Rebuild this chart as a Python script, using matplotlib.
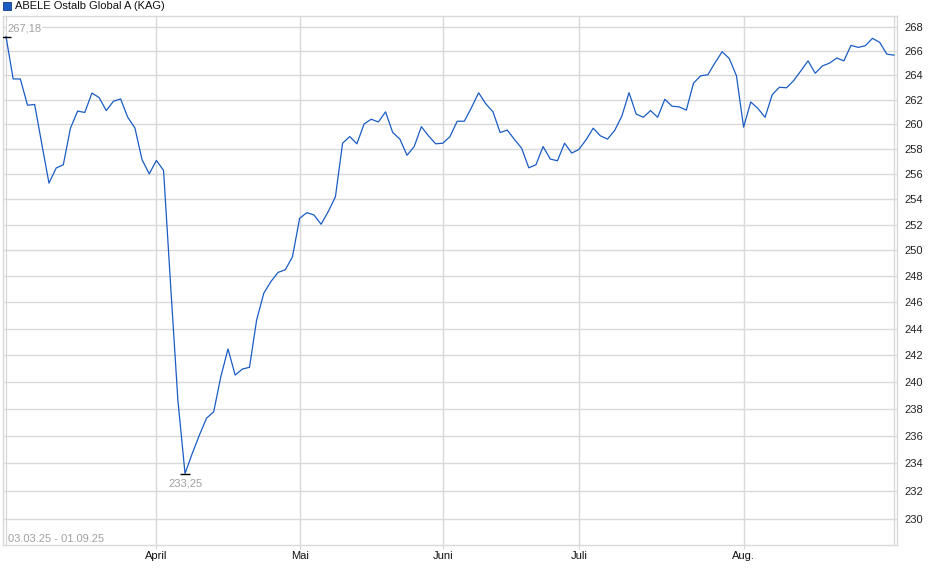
import matplotlib
matplotlib.use('Agg')
import matplotlib.pyplot as plt
from matplotlib.ticker import FixedLocator, NullLocator, FixedFormatter
from matplotlib.patches import Rectangle

plt.rcParams['font.family'] = ['Liberation Sans', 'DejaVu Sans']

title = 'ABELE Ostalb Global A (KAG)'
period = '03.03.25 - 01.09.25'

# daily prices, one per trading day (03.03.25 - 01.09.25)
prices = [
    267.18, 263.68, 263.68, 261.54, 261.60, 258.40, 255.28, 256.48, 256.74, 259.68,
    261.06, 260.95, 262.53, 262.16, 261.10, 261.86, 262.05, 260.56, 259.70, 257.14,
    256.02, 257.09, 256.29, 247.20, 238.64, 233.25, 234.70, 236.05, 237.30, 237.77,
    240.38, 242.46, 240.50, 240.95, 241.08, 244.66, 246.70, 247.60, 248.30, 248.50,
    249.50, 252.50, 252.95, 252.77, 252.04, 253.04, 254.20, 258.47, 259.00, 258.42,
    260.02, 260.40, 260.18, 261.00, 259.33, 258.80, 257.50, 258.20, 259.80, 259.06,
    258.42, 258.47, 259.00, 260.24, 260.24, 261.35, 262.55, 261.65, 261.00, 259.33,
    259.52, 258.77, 258.07, 256.50, 256.74, 258.20, 257.20, 257.06, 258.47, 257.68,
    257.97, 258.74, 259.68, 259.06, 258.80, 259.50, 260.66, 262.56, 260.82, 260.56,
    261.10, 260.56, 262.02, 261.46, 261.40, 261.14, 263.33, 263.94, 264.02, 265.00,
    265.92, 265.36, 263.94, 259.76, 261.80, 261.27, 260.56, 262.40, 263.00, 262.96,
    263.55, 264.35, 265.17, 264.15, 264.75, 264.98, 265.40, 265.17, 266.45, 266.28,
    266.42, 267.03, 266.70, 265.72, 265.64,
]

month_labels = ['April', 'Mai', 'Juni', 'Juli', 'Aug.']
month_pos = [21, 41, 61, 80, 103]
y_ticks = list(range(230, 269, 2))

line_color = '#1a5cc4'
grid_color = '#d9d9d9'

W, H = 940, 579
fig = plt.figure(figsize=(W / 100, H / 100), dpi=100)
ax = fig.add_axes([3 / W, 1 - 545 / H, 894 / W, 529 / H])

n = len(prices)
x = list(range(n))
ax.plot(x, prices, color=line_color, lw=0.9, zorder=3)

ax.set_yscale('log')
ax.set_ylim(228.13, 268.89)
ax.set_xlim(-0.42, n - 1 + 0.42)

ax.yaxis.set_major_locator(FixedLocator(y_ticks))
ax.yaxis.set_major_formatter(FixedFormatter([str(v) for v in y_ticks]))
ax.yaxis.set_minor_locator(NullLocator())
ax.yaxis.tick_right()
ax.tick_params(axis='y', length=0, pad=5, labelsize=8, labelcolor='#222222')

ax.set_xticks(month_pos)
ax.set_xticklabels(month_labels)
ax.xaxis.set_minor_locator(NullLocator())
ax.tick_params(axis='x', length=3, width=0.8, color=grid_color, pad=1,
               labelsize=8, labelcolor='#111111')

ax.grid(True, color=grid_color, lw=1, zorder=0)
ax.axvline(0, color=grid_color, lw=1, zorder=0)
ax.axvline(n - 1, color=grid_color, lw=1, zorder=0)
for s in ax.spines.values():
    s.set_color(grid_color)
    s.set_linewidth(1)

# max / min markers
imax = prices.index(max(prices))
imin = prices.index(min(prices))
for i in (imax, imin):
    ax.plot(i, prices[i], marker='_', ms=7, mew=1, color='black', zorder=4)
ax.annotate(f'{prices[imax]:.2f}'.replace('.', ','), (imax, prices[imax]),
            xytext=(1, 6), textcoords='offset points', ha='left', va='center',
            fontsize=8, color='#a0a0a0',
            bbox=dict(boxstyle='square,pad=0.05', fc='white', ec='none'), zorder=5)
ax.annotate(f'{prices[imin]:.2f}'.replace('.', ','), (imin, prices[imin]),
            xytext=(0, -7.5), textcoords='offset points', ha='center', va='center',
            fontsize=8, color='#a0a0a0', zorder=5)

fig.text(8 / W, 1 - 539 / H, period, fontsize=8, color='#a0a0a0', va='center', ha='left')

# legend header
fig.patches.append(Rectangle((3 / W, 1 - 10 / H), 8 / W, 8 / H, transform=fig.transFigure,
                             fc=line_color, ec='#0d3a80', lw=0.6))
fig.text(15 / W, 1 - 6 / H, title, fontsize=8, color='#111111', va='center', ha='left')

fig.savefig('out.png', dpi=100)
